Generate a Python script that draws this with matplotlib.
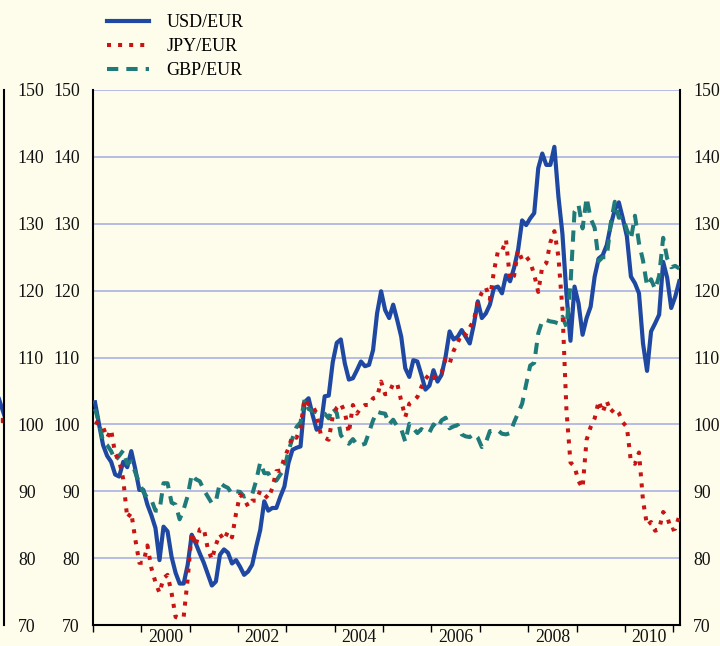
import numpy as np
import matplotlib
matplotlib.use("Agg")
import matplotlib.pyplot as plt
from matplotlib.lines import Line2D

# monthly indices, Jan 1999 - Feb 2011
usd = [103.3, 100.0, 96.9, 95.3, 94.4, 92.5, 92.2, 94.4, 93.6, 96.0, 93.3, 90.2,
       90.2, 88.0, 86.4, 84.5, 79.7, 84.7, 84.0, 80.2, 77.8, 76.2, 76.2, 79.0,
       83.5, 82.2, 80.7, 79.3, 77.6, 75.9, 76.5, 80.5, 81.3, 80.8, 79.2, 79.7,
       78.7, 77.5, 78.0, 79.0, 81.7, 84.2, 88.5, 87.1, 87.5, 87.5, 89.2, 90.7,
       94.2, 96.2, 96.5, 96.7, 103.3, 103.9, 101.4, 99.2, 99.6, 104.2, 104.3, 109.3,
       112.2, 112.7, 109.1, 106.7, 106.9, 108.1, 109.4, 108.7, 108.9, 111.1, 116.6, 119.9,
       117.1, 115.9, 117.9, 115.6, 113.1, 108.4, 107.1, 109.6, 109.4, 107.4, 105.2, 105.8,
       108.1, 106.4, 107.4, 110.1, 113.9, 112.7, 113.1, 114.1, 113.1, 112.1, 114.9, 118.4,
       115.9, 116.6, 117.9, 120.4, 120.6, 119.6, 122.3, 121.4, 123.4, 126.1, 130.5, 129.8,
       130.8, 131.6, 138.3, 140.5, 138.8, 138.8, 141.5, 134.1, 128.5, 119.5, 112.5, 120.6,
       118.1, 113.4, 115.9, 117.6, 122.1, 124.8, 125.3, 126.8, 129.8, 132.1, 133.2, 130.8,
       128.1, 122.1, 121.1, 119.6, 112.1, 108.0, 113.9, 115.1, 116.4, 124.3, 121.9, 117.4,
       119.1, 121.4]

jpy = [100.4, 100.0, 99.6, 98.0, 99.2, 95.6, 94.6, 91.8, 86.0, 86.8, 82.8, 79.3,
       79.3, 81.9, 78.5, 76.4, 74.8, 77.0, 77.5, 74.8, 71.2, 71.0, 71.2, 76.9,
       83.8, 81.9, 84.3, 84.4, 81.4, 79.8, 82.0, 83.6, 82.7, 84.0, 83.1, 86.7,
       89.5, 88.9, 87.7, 88.6, 88.6, 90.1, 89.5, 88.9, 90.5, 93.0, 93.1, 95.0,
       96.4, 98.3, 98.0, 99.5, 103.8, 103.0, 102.9, 101.5, 98.6, 98.0, 97.7, 101.2,
       102.5, 103.1, 101.8, 98.7, 102.9, 101.6, 102.5, 102.9, 102.9, 103.9, 104.1, 106.4,
       104.5, 104.7, 106.1, 106.1, 103.5, 101.1, 103.1, 103.5, 104.1, 105.6, 106.8, 107.5,
       106.9, 107.7, 107.7, 109.8, 109.1, 111.0, 112.2, 113.6, 113.4, 114.5, 115.5, 118.4,
       119.7, 120.5, 118.7, 122.9, 125.9, 125.9, 127.6, 121.6, 122.2, 126.1, 124.6, 125.1,
       124.3, 122.4, 119.8, 123.6, 124.1, 127.2, 128.9, 125.1, 117.2, 102.1, 94.3, 93.7,
       91.5, 90.5, 97.7, 99.6, 100.9, 103.5, 101.8, 103.5, 101.8, 102.4, 101.7, 100.3,
       99.6, 94.4, 94.1, 95.8, 88.6, 84.9, 85.4, 84.1, 84.3, 86.9, 86.2, 84.2,
       84.4, 86.3]

gbp = [102.3, 100.3, 97.4, 96.9, 96.0, 94.6, 95.3, 96.1, 94.1, 94.5, 92.8, 91.2,
       89.9, 89.0, 88.7, 87.1, 87.1, 91.2, 91.2, 88.3, 88.0, 85.8, 87.3, 89.3,
       92.5, 91.8, 91.5, 90.2, 89.2, 88.2, 88.5, 91.3, 90.8, 90.5, 89.6, 90.0,
       89.9, 89.2, 89.4, 89.5, 91.6, 94.3, 92.7, 92.7, 91.6, 91.6, 92.5, 93.4,
       96.0, 97.9, 99.6, 100.3, 103.7, 102.3, 102.0, 101.8, 101.5, 101.6, 100.9, 102.5,
       101.7, 98.4, 97.6, 97.1, 97.8, 97.0, 96.9, 97.1, 98.8, 100.6, 101.9, 101.7,
       101.6, 100.0, 100.7, 99.7, 99.3, 97.4, 100.1, 99.4, 98.7, 99.3, 98.8, 98.8,
       100.0, 99.4, 100.6, 101.0, 99.4, 99.7, 99.9, 98.5, 98.2, 98.1, 98.6, 98.0,
       96.6, 97.3, 99.0, 99.0, 99.1, 98.6, 98.5, 98.7, 100.3, 101.7, 103.1, 106.0,
       108.8, 109.2, 113.6, 115.5, 115.6, 115.4, 115.3, 115.1, 116.1, 114.6, 120.9, 131.8,
       132.8, 129.3, 133.9, 130.8, 129.4, 124.4, 125.0, 125.0, 130.1, 133.3, 130.9, 131.0,
       129.1, 127.7, 131.2, 127.1, 124.5, 120.7, 121.7, 120.2, 122.2, 127.9, 124.8, 123.5,
       123.7, 123.3]

dates = 1999 + (np.arange(len(usd)) + 0.5) / 12

year_ticks = list(range(1999, 2012))
label_years = [2000, 2002, 2004, 2006, 2008, 2010]
y_ticks = [70, 80, 90, 100, 110, 120, 130, 140, 150]

bg = '#fefdeb'
blue = '#1e48a2'
red = '#c81414'
teal = '#1f7a7a'
grid_col = '#aab2e2'
dots = (0, (1, 1.75))
dashes = (0, (2.8, 2.0))

plt.rcParams['font.family'] = ['Liberation Serif', 'DejaVu Serif']

fig = plt.figure(figsize=(7.2, 6.46), dpi=100, facecolor=bg)
ax = fig.add_axes([93 / 720, 21 / 646, 587 / 720, 535 / 646], facecolor=bg)

ax.plot(dates, usd, color=blue, lw=3.0, zorder=3)
ax.plot(dates, gbp, color=teal, lw=2.9, linestyle=dashes, zorder=4)
ax.plot(dates, jpy, color=red, lw=2.9, linestyle=dots,
        dash_capstyle='butt', zorder=5)

ax.set_xlim(1999, 2011.14)
ax.set_ylim(70, 150)
ax.set_yticks(y_ticks)
ax.yaxis.grid(True, color=grid_col, lw=1.2)
ax.set_axisbelow(True)

for side in ['left', 'right', 'bottom']:
    ax.spines[side].set_linewidth(1.5)
    ax.spines[side].set_color('black')
ax.spines['top'].set_visible(False)

ax.tick_params(axis='y', left=False, right=False, labelleft=True,
               labelright=True, pad=6, labelsize=12.8, colors='#111111')
ax.set_xticks(year_ticks)
ax.set_xticklabels([])
ax.set_xticks([y + 0.5 for y in label_years], minor=True)
ax.set_xticklabels([str(y) for y in label_years], minor=True)
ax.tick_params(axis='x', which='major', direction='out', length=5, width=1)
ax.tick_params(axis='x', which='minor', length=0, pad=3, labelsize=12.8,
               colors='#111111')

# edge of the neighbouring panel
ax_prev = fig.add_axes([-0.3, 21 / 646, 0.3 + 4 / 720, 535 / 646])
ax_prev.patch.set_visible(False)
for side in ['left', 'top', 'bottom']:
    ax_prev.spines[side].set_visible(False)
ax_prev.spines['right'].set_linewidth(1.5)
ax_prev.set_xlim(0, 1)
ax_prev.set_ylim(70, 150)
ax_prev.set_xticks([])
ax_prev.set_yticks(y_ticks)
ax_prev.tick_params(axis='y', left=False, right=False, labelleft=False,
                    labelright=True, pad=6.5, labelsize=12.8, colors='#111111')
ax_prev.plot([0.97, 1.0], [104.5, 101.5], color=blue, lw=3.0)
ax_prev.plot([0.995], [100.6], 's', color=red, ms=3)

handles = [Line2D([], [], color=blue, lw=3.0),
           Line2D([], [], color=red, lw=2.9, linestyle=dots,
                  dash_capstyle='butt'),
           Line2D([], [], color=teal, lw=2.9, linestyle=dashes)]
fig.legend(handles, ['USD/EUR', 'JPY/EUR', 'GBP/EUR'], loc='upper left',
           bbox_to_anchor=(107 / 720, 1 - 14 / 646), frameon=False,
           fontsize=13, handlelength=2.3, handletextpad=1.0, labelspacing=0.4,
           borderpad=0, borderaxespad=0)

fig.savefig('out.png', dpi=100, facecolor=bg)
